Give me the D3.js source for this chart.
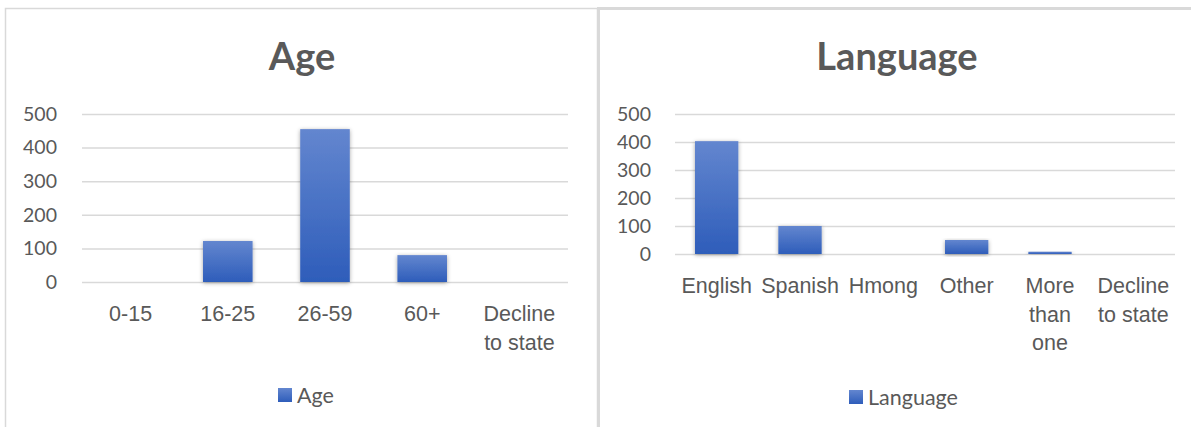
<!DOCTYPE html>
<html>
<head>
<meta charset="utf-8">
<script src="https://cdn.jsdelivr.net/npm/d3@7"></script>
<style>
  body { margin: 0; background: #fff; }
  svg { display: block; font-family: Lato, "Open Sans", sans-serif; }
</style>
</head>
<body>
<svg id="chart" width="1191" height="427"></svg>
<script>
// === DATA ===
const ageCategories = ["0-15", "16-25", "26-59", "60+", "Decline\nto state"];
const ageValues = [0, 122, 455, 80, 0];
const languageCategories = ["English", "Spanish", "Hmong", "Other", "More\nthan\none", "Decline\nto state"];
const languageValues = [403, 100, 0, 50, 8, 0];
const yTicks = [0, 100, 200, 300, 400, 500];

const svg = d3.select("#chart");
const textColor = "#595959";
const gridColor = "#d9d9d9";

// gradient + soft shadow for the bars
const defs = svg.append("defs");
const grad = defs.append("linearGradient")
    .attr("id", "barGrad")
    .attr("x1", 0).attr("y1", 0).attr("x2", 0).attr("y2", 1);
grad.append("stop").attr("offset", "0%").attr("stop-color", "#6386cf");
grad.append("stop").attr("offset", "100%").attr("stop-color", "#2e5dba");
const shadow = defs.append("filter").attr("id", "barShadow")
    .attr("x", "-30%").attr("y", "-10%").attr("width", "160%").attr("height", "130%");
shadow.append("feDropShadow")
    .attr("dx", 0).attr("dy", 1).attr("stdDeviation", 2)
    .attr("flood-color", "#000").attr("flood-opacity", 0.35);

// === ONE CHART PANEL ===
function drawPanel(opt) {
    const g = svg.append("g");

    // chart area border
    g.append("rect")
        .attr("x", opt.box[0]).attr("y", opt.box[1])
        .attr("width", opt.box[2]).attr("height", opt.box[3])
        .attr("fill", "#fff")
        .attr("stroke", gridColor)
        .attr("stroke-width", opt.borderWidth);

    const x = d3.scaleBand()
        .domain(opt.categories)
        .range(opt.xRange)
        .paddingInner(opt.padInner)
        .paddingOuter(opt.padInner / 2);

    const y = d3.scaleLinear()
        .domain([0, 500])
        .range(opt.yRange);

    // y axis with grid lines
    const yAxis = g.append("g")
        .attr("transform", "translate(" + opt.xRange[0] + ",0)")
        .call(d3.axisLeft(y)
            .tickValues(yTicks)
            .tickSize(-(opt.xRange[1] - opt.xRange[0]))
            .tickPadding(opt.xRange[0] - opt.labelRight));
    yAxis.select(".domain").remove();
    yAxis.selectAll(".tick line")
        .attr("stroke", gridColor)
        .attr("stroke-width", 1.5);
    yAxis.selectAll(".tick text")
        .attr("fill", textColor)
        .attr("font-size", 19.5)
        .attr("font-family", "Lato, sans-serif");

    // bars
    g.selectAll(".bar")
        .data(opt.categories.map((c, i) => ({ c: c, v: opt.values[i] })).filter(d => d.v > 0))
        .enter()
        .append("rect")
        .attr("class", "bar")
        .attr("x", d => x(d.c))
        .attr("y", d => y(d.v))
        .attr("width", x.bandwidth())
        .attr("height", d => y(0) - y(d.v))
        .attr("fill", "url(#barGrad)")
        .attr("filter", "url(#barShadow)");

    // x axis labels (multi line)
    const xAxis = g.append("g")
        .attr("transform", "translate(0," + opt.yRange[0] + ")")
        .call(d3.axisBottom(x).tickSize(0).tickFormat(""));
    xAxis.select(".domain").remove();
    xAxis.selectAll(".tick").each(function (d) {
        const lines = d.split("\n");
        const t = d3.select(this).append("text")
            .attr("fill", textColor)
            .attr("font-size", 21.5)
            .attr("text-anchor", "middle")
            .attr("y", opt.labelTop);
        lines.forEach((ln, i) => {
            t.append("tspan").attr("x", 0).attr("dy", i === 0 ? 0 : 28.5).text(ln);
        });
    });

    // title
    g.append("text")
        .attr("x", opt.titleX).attr("y", 70)
        .attr("text-anchor", "middle")
        .attr("font-size", 38)
        .attr("font-weight", "bold")
        .attr("fill", textColor)
        .text(opt.title);

    // legend
    const lg = g.append("g").attr("transform", "translate(" + opt.legendX + "," + opt.legendY + ")");
    lg.append("rect")
        .attr("x", 0).attr("y", -7)
        .attr("width", 14).attr("height", 14)
        .attr("fill", "url(#barGrad)");
    lg.append("text")
        .attr("x", 19).attr("y", 7.5)
        .attr("font-size", 21.5)
        .attr("fill", textColor)
        .text(opt.title);
}

drawPanel({
    box: [5.5, 8.5, 592, 430],
    borderWidth: 1.5,
    categories: ageCategories,
    values: ageValues,
    xRange: [82, 568],
    yRange: [282, 114],
    padInner: 0.49,
    labelRight: 57,
    labelTop: 39,
    title: "Age",
    titleX: 302,
    legendX: 278,
    legendY: 395
});

drawPanel({
    box: [598.5, 8.5, 600, 430],
    borderWidth: 3,
    categories: languageCategories,
    values: languageValues,
    xRange: [675, 1175],
    yRange: [254, 114],
    padInner: 0.48,
    labelRight: 651,
    labelTop: 39,
    title: "Language",
    titleX: 897,
    legendX: 849,
    legendY: 397
});
</script>
</body>
</html>
